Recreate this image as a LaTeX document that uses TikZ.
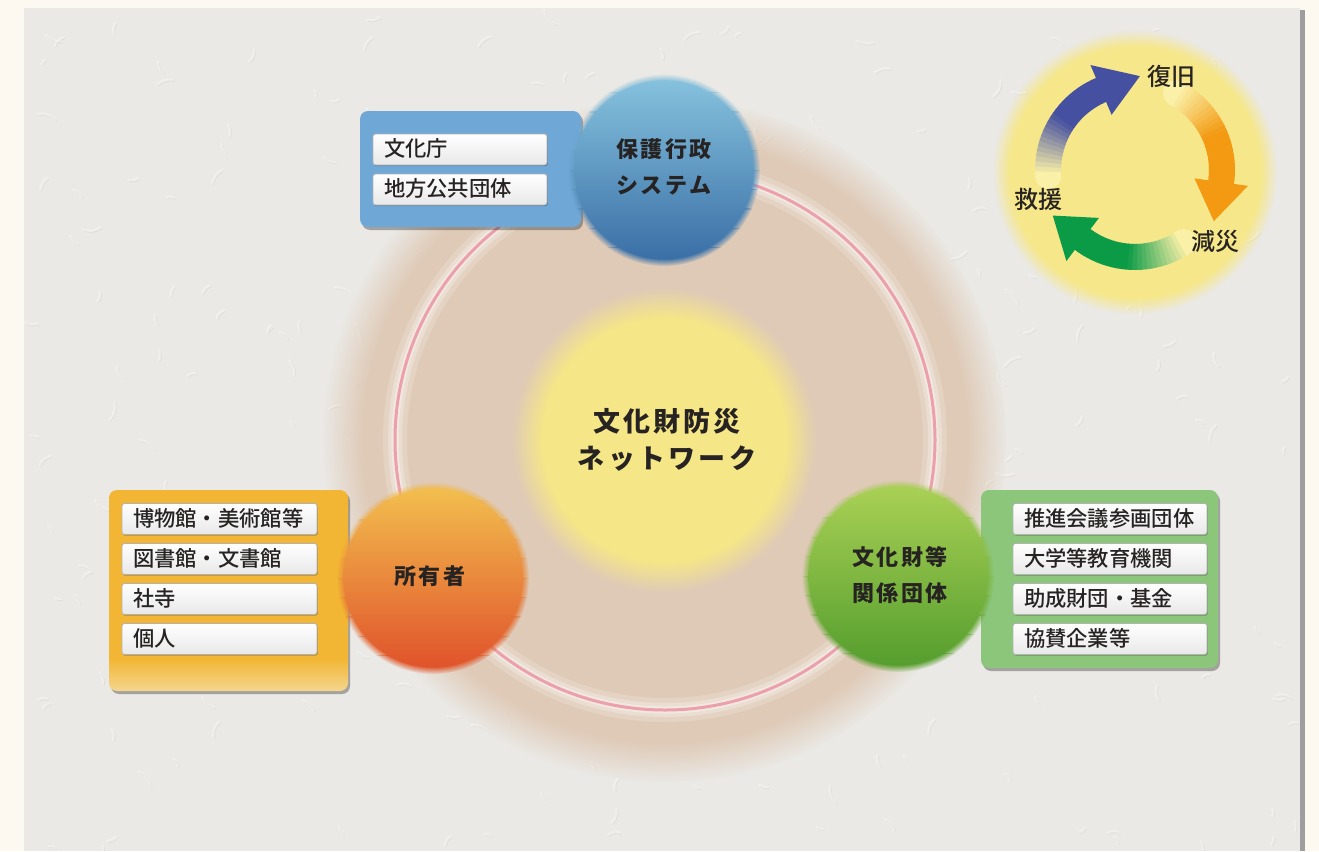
\documentclass[tikz,border=0pt]{standalone}
\usepackage{fontspec}
\newfontfamily\jp{Noto Sans CJK JP Medium}
\newfontfamily\jpsp[LetterSpace=12]{Noto Sans CJK JP}
\usetikzlibrary{shadows,fadings,calc}

\definecolor{bgcream}{HTML}{FDF9F1}
\definecolor{panel}{HTML}{EAE9E5}
\definecolor{tanc}{HTML}{DFCAB7}
\definecolor{ringpink}{HTML}{EBA0AC}
\definecolor{cyel}{HTML}{F5E688}
\definecolor{bbox}{HTML}{6FA8D6}
\definecolor{obox}{HTML}{F2B634}
\definecolor{oboxlt}{HTML}{F4D68E}
\definecolor{gbox}{HTML}{8CC67B}
\definecolor{bluetop}{HTML}{85C1DD}
\definecolor{bluebot}{HTML}{3A6FA6}
\definecolor{orgtop}{HTML}{F2BE4E}
\definecolor{orgbot}{HTML}{E0532B}
\definecolor{grntop}{HTML}{A9D055}
\definecolor{grnbot}{HTML}{559E2E}
\definecolor{glow}{HTML}{F6E78A}
\definecolor{cblue}{HTML}{4551A0}
\definecolor{corg}{HTML}{F39A12}
\definecolor{cgrn}{HTML}{0B9A46}
\definecolor{cpale}{HTML}{FAF0A8}
\definecolor{txt}{HTML}{262322}

\pgfdeclareradialshading{softshadeA}{\pgfpoint{0bp}{0bp}}{color(0bp)=(white); color(20bp)=(white); color(25bp)=(black); color(50bp)=(black)}
\pgfdeclarefading{softA}{\pgfuseshading{softshadeA}}
\pgfdeclareradialshading{softshadeB}{\pgfpoint{0bp}{0bp}}{color(0bp)=(white); color(23bp)=(white); color(25bp)=(black); color(50bp)=(black)}
\pgfdeclarefading{softB}{\pgfuseshading{softshadeB}}
\pgfdeclareradialshading{softshadeC}{\pgfpoint{0bp}{0bp}}{color(0bp)=(white); color(22bp)=(white); color(25bp)=(black); color(50bp)=(black)}
\pgfdeclarefading{softC}{\pgfuseshading{softshadeC}}
\pgfdeclareverticalshading{oboxshade}{100bp}{color(0bp)=(oboxlt); color(25bp)=(oboxlt); color(33bp)=(obox); color(100bp)=(obox)}

\newcommand{\cyclearc}[4]{%
  \fill[cpale, shift={(C)}] (#1:87) circle (13);
  \foreach \k in {0,...,23}{
    \pgfmathsetmacro{\aa}{#1+(#2-#1)*\k/24}
    \pgfmathsetmacro{\bb}{#1+(#2-#1)*(\k+1)/24+0.6}
    \pgfmathsetmacro{\pp}{min(100,\k*100/(23*0.55))}
    \draw[line width=26, color=#3!\pp!cpale, shift={(C)}] (\aa:87) arc[start angle=\aa, end angle=\bb, radius=87];
  }
  \fill[#3, shift={(C)}] (#2:60) -- (#2:114) -- (#4:94) -- cycle;
}

\newcommand{\spherefill}[4]{% cx, cy, top colour, bottom colour
  \foreach \j in {0,...,9}{
    \pgfmathsetmacro{\ya}{#2-97+\j*19.4}
    \pgfmathsetmacro{\yb}{\ya+19.7}
    \pgfmathsetmacro{\pq}{(\j+0.5)*10}
    \begin{scope}
      \clip (#1-100,\ya) rectangle (#1+100,\yb);
      \fill[color=#4!\pq!#3, path fading=softB] (#1,#2) circle (96);
    \end{scope}
  }
  \shade[top color=#3, bottom color=#4] (#1,#2) circle (89.5);
}

\begin{document}
\begin{tikzpicture}[x=1pt,y=-1pt,
  boxshadow/.style={drop shadow={shadow xshift=2pt, shadow yshift=-3pt, opacity=.3, fill=black}},
  itembox/.style={draw=black!30, line width=0.8, rounded corners=2.5, top color=white, bottom color=black!9,
    minimum height=31, inner xsep=11, inner ysep=0, align=left,
    font=\jp\fontsize{21.3}{24}\selectfont, text=txt, text height=17, text depth=3,
    drop shadow={shadow xshift=0.8pt, shadow yshift=-1.2pt, opacity=.25, fill=black}},
  lab/.style={font=\jpsp\bfseries\fontsize{22}{36}\selectfont, align=center, text=txt},
  biglab/.style={font=\jpsp\bfseries\fontsize{27}{37}\selectfont, align=center, text=txt},
  cyclab/.style={font=\jp\fontsize{24}{26}\selectfont, text=txt}
]
\useasboundingbox (0,0) rectangle (1319,851);
\fill[bgcream] (0,0) rectangle (1319,851);
\fill[black!38] (1300,10) rectangle (1305,851);
\fill[panel] (24,8) rectangle (1300,851);

% plaster texture of the panel
\begin{scope}
\clip (24,8) rectangle (1300,851);
\pgfmathsetseed{42}
\foreach \t in {1,...,260}{
  \pgfmathsetmacro{\tx}{30+rnd*1265}
  \pgfmathsetmacro{\ty}{12+rnd*835}
  \pgfmathsetmacro{\ta}{rnd*360}
  \pgfmathsetmacro{\tl}{5+rnd*14}
  \draw[white, opacity=.3, line width=2.4, line cap=round] (\tx,\ty) to[bend left=25] ++(\ta:\tl);
  \draw[black, opacity=.035, line width=1.2, line cap=round] (\tx+1.5,\ty+1.5) to[bend left=25] ++(\ta:\tl);
}
\end{scope}

% halo, ring and center
\fill[tanc, path fading=softC] (665,440) circle (342);
\draw[white, opacity=.18, line width=24] (665,440) circle (270);
\draw[white, opacity=.25, line width=14] (665,440) circle (270);
\draw[white, opacity=.35, line width=7] (665,440) circle (270);
\draw[ringpink, line width=3] (665,440) circle (270);
\fill[cyel, path fading=softA] (664,440) circle (152);
\node[biglab] (center) at (667,439.5) {文化財防災\\ネットワーク};

% group boxes
\path[fill=bbox, rounded corners=8, boxshadow] (360,111) rectangle (581,227);
\path[shading=oboxshade, rounded corners=8, boxshadow] (109,490) rectangle (348,691);
\path[fill=gbox, rounded corners=8, boxshadow] (981,490) rectangle (1218,668);

\node[itembox, text width=152] (b1) at (460,149.5) {文化庁};
\node[itembox, text width=152] (b2) at (460,189.5) {地方公共団体};

\node[itembox, text width=173] (o1) at (219.5,519) {博物館・美術館等};
\node[itembox, text width=173] (o2) at (219.5,559) {図書館・文書館};
\node[itembox, text width=173] (o3) at (219.5,599) {社寺};
\node[itembox, text width=173] (o4) at (219.5,639) {個人};

\node[itembox, text width=172] (g1) at (1110,519) {推進会議参画団体};
\node[itembox, text width=172] (g2) at (1110,559) {大学等教育機関};
\node[itembox, text width=172] (g3) at (1110,599) {助成財団・基金};
\node[itembox, text width=172] (g4) at (1110,639) {協賛企業等};

% spheres
\spherefill{664}{170}{bluetop}{bluebot}
\spherefill{433}{578}{orgtop}{orgbot}
\spherefill{898}{576}{grntop}{grnbot}

\node[lab] (s1) at (664,166.5) {保護行政\\システム};
\node[lab] (s2) at (430,576) {所有者};
\node[lab] (s3) at (900,575.5) {文化財等\\関係団体};

% cycle
\fill[glow, path fading=softC] (1135,172) circle (142);
\coordinate (C) at (1135,170);
\cyclearc{176}{247}{cblue}{273}
\cyclearc{298}{368}{corg}{393}
\cyclearc{56}{127}{cgrn}{151}
\node[cyclab] (r1) at (1171,76) {復旧};
\node[cyclab] (r2) at (1215,241) {減災};
\node[cyclab] (r3) at (1038,199) {救援};
\end{tikzpicture}
\end{document}
